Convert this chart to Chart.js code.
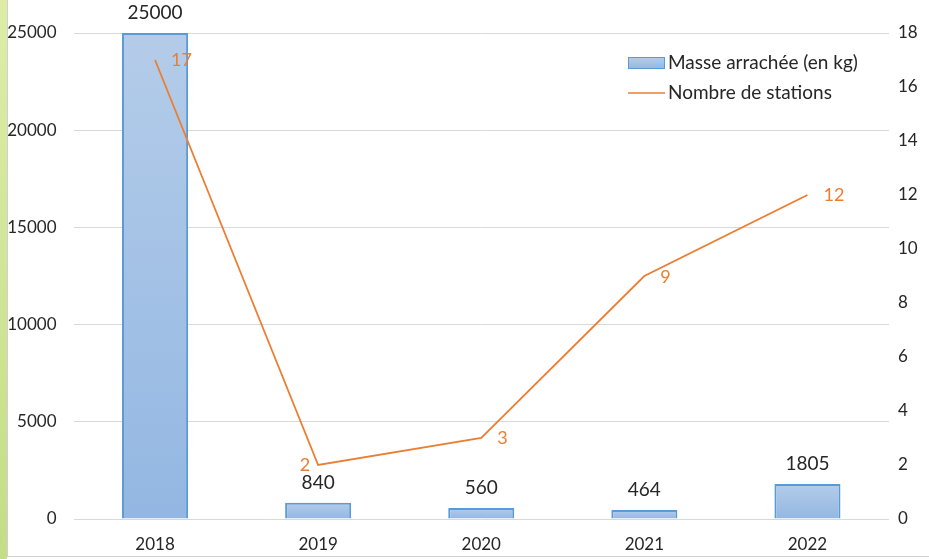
<!DOCTYPE html>
<html>
<head>
<meta charset="utf-8">
<script src="https://cdn.jsdelivr.net/npm/chart.js@4"></script>
<style>
  body { margin: 0; background: #fff; }
  #wrap { position: relative; width: 929px; height: 559px; overflow: hidden; }
  #strip { position: absolute; left: 0; top: 0; width: 7px; height: 559px;
           background: linear-gradient(#ddeda7, #c3de87); }
  #frame { position: absolute; left: 7px; top: 0; width: 921px; height: 556px;
           border-left: 1px solid #d0d0d0; border-bottom: 1px solid #d0d0d0; }
  canvas { position: absolute; left: 0; top: 0; }
</style>
</head>
<body>
<div id="wrap">
  <div id="strip"></div>
  <div id="frame"></div>
  <canvas id="chart" width="929" height="559"></canvas>
</div>
<script>
// data
const years = ['2018', '2019', '2020', '2021', '2022'];
const masse = [25000, 840, 560, 464, 1805];
const stations = [17, 2, 3, 9, 12];
const leftTicks = [0, 5000, 10000, 15000, 20000, 25000];
const rightTicks = [0, 2, 4, 6, 8, 10, 12, 14, 16, 18];

const FONT = 'Lato, "Open Sans", sans-serif';
const ORANGE = '#ed7d31';
const TEXT = '#262626';

// where the orange labels sit relative to their point
const lineLabelSide = ['right', 'left', 'right', 'right', 'right'];
const lineLabelDy = [0, 0, 0, 1, 0];

function barGradient(ctx) {
    const chart = ctx.chart;
    if (!chart.chartArea || ctx.raw === undefined) return '#a5c2e6';
    const y = chart.scales.y;
    const top = y.getPixelForValue(ctx.raw);
    const bottom = y.getPixelForValue(0);
    const g = chart.ctx.createLinearGradient(0, top, 0, Math.max(bottom, top + 1));
    g.addColorStop(0, '#b4cce9');
    g.addColorStop(1, '#93b7e2');
    return g;
}

const labelPlugin = {
    id: 'labels',
    afterDatasetsDraw(chart) {
        const c = chart.ctx;
        c.save();
        c.textBaseline = 'middle';
        // bar values
        c.font = '19px ' + FONT;
        c.fillStyle = TEXT;
        c.textAlign = 'center';
        chart.getDatasetMeta(0).data.forEach((bar, i) => {
            c.fillText(String(masse[i]), bar.x, bar.y - 20);
        });
        // line values
        c.fillStyle = ORANGE;
        c.font = '18px ' + FONT;
        chart.getDatasetMeta(1).data.forEach((pt, i) => {
            const right = lineLabelSide[i] === 'right';
            c.textAlign = right ? 'left' : 'right';
            c.fillText(String(stations[i]), pt.x + (right ? 16 : -8), pt.y + lineLabelDy[i]);
        });
        // legend
        c.textAlign = 'left';
        c.font = '19px ' + FONT;
        const lg = c.createLinearGradient(0, 58, 0, 69);
        lg.addColorStop(0, '#b4cce9');
        lg.addColorStop(1, '#93b7e2');
        c.fillStyle = lg;
        c.fillRect(628.5, 57.5, 36, 11);
        c.strokeStyle = '#5b9bd5';
        c.lineWidth = 1;
        c.strokeRect(628.5, 57.5, 36, 11);
        c.fillStyle = TEXT;
        c.fillText('Masse arrachée (en kg)', 668, 63);
        c.strokeStyle = ORANGE;
        c.lineWidth = 1.5;
        c.beginPath();
        c.moveTo(628, 93);
        c.lineTo(665, 93);
        c.stroke();
        c.fillText('Nombre de stations', 668, 93);
        c.restore();
    }
};

new Chart(document.getElementById('chart').getContext('2d'), {
    data: {
        labels: years,
        datasets: [
            {
                type: 'bar',
                label: 'Masse arrachée (en kg)',
                data: masse,
                backgroundColor: barGradient,
                borderColor: '#5b9bd5',
                borderWidth: 2,
                barPercentage: 0.405,
                categoryPercentage: 1,
                yAxisID: 'y',
                order: 1
            },
            {
                type: 'line',
                label: 'Nombre de stations',
                data: stations,
                borderColor: ORANGE,
                borderWidth: 1.8,
                pointRadius: 0,
                tension: 0,
                yAxisID: 'y1',
                order: 0
            }
        ]
    },
    options: {
        responsive: false,
        animation: false,
        layout: { padding: { top: 33, left: 0, right: 0, bottom: 0 } },
        plugins: {
            legend: { display: false },
            tooltip: { enabled: false }
        },
        scales: {
            x: {
                grid: { display: false },
                border: { display: false },
                ticks: { color: TEXT, font: { family: FONT, size: 17 }, padding: 7 },
                afterFit(s) { s.height = 40; }
            },
            y: {
                position: 'left',
                min: 0,
                max: 25000,
                afterBuildTicks(s) { s.ticks = leftTicks.map(v => ({ value: v })); },
                grid: { color: '#d9d9d9', lineWidth: 1, drawTicks: false },
                border: { display: false },
                ticks: { color: TEXT, font: { family: FONT, size: 17 }, padding: 17,
                         callback: v => String(v) },
                afterFit(s) { s.width = 73.5; }
            },
            y1: {
                position: 'right',
                min: 0,
                max: 18,
                afterBuildTicks(s) { s.ticks = rightTicks.map(v => ({ value: v })); },
                grid: { display: false, drawTicks: false },
                border: { display: false },
                ticks: { color: TEXT, font: { family: FONT, size: 17 }, padding: 9,
                         callback: v => String(v) },
                afterFit(s) { s.width = 40; }
            }
        }
    },
    plugins: [labelPlugin]
});
</script>
</body>
</html>
